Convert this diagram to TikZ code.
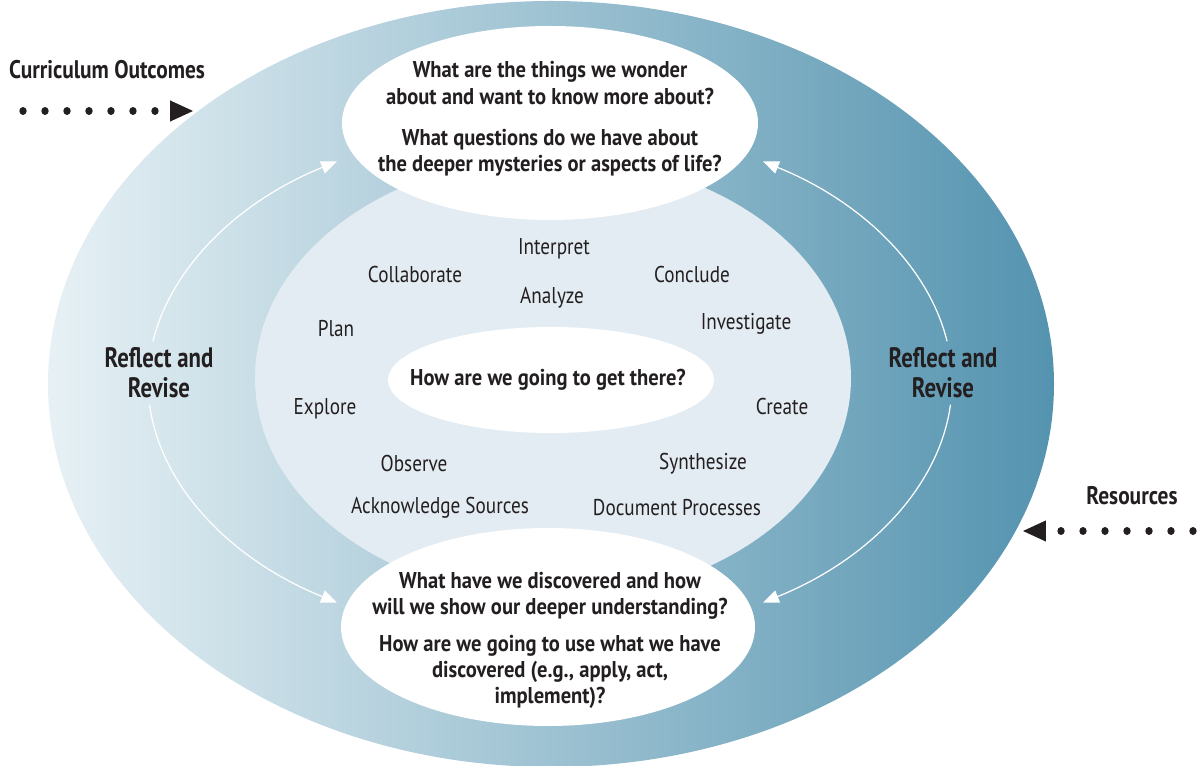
\documentclass[tikz,border=0pt]{standalone}
\usepackage{fontspec}
\setmainfont{PT Sans}[FakeStretch=0.84]
\newfontfamily\questfont{PT Sans}[FakeStretch=0.90]
\newfontfamily\reflectfont{PT Sans}[FakeStretch=0.81]
\usetikzlibrary{arrows.meta,calc}
\definecolor{ringlight}{RGB}{231,241,245}
\definecolor{ringdark}{RGB}{84,147,175}
\definecolor{core}{RGB}{227,236,242}
\definecolor{ink}{RGB}{35,31,32}

\begin{document}
\begin{tikzpicture}[x=0.02cm, y=-0.02cm,
        question/.style={font=\questfont\bfseries\fontsize{13}{15}\selectfont, align=center, text=ink},
        action/.style={font=\fontsize{13}{15}\selectfont, text=ink},
        reflect/.style={font=\reflectfont\bfseries\fontsize{16}{17}\selectfont, align=center, text=ink},
        inflow/.style={font=\bfseries\fontsize{14.5}{16}\selectfont, text=ink},
        dotarrow/.style={ink, line width=4.2pt, line cap=round, dash pattern=on 0.01pt off 12.51pt, -{Triangle[length=13pt, width=12pt, line width=0pt]}},
        loopline/.style={white, line width=0.7pt, -{Triangle[length=9pt, width=7.5pt, line width=0pt]}},
    ]
        \useasboundingbox (0,0) rectangle (1204,766);

        % Rings
        \shade[left color=ringlight, right color=ringdark] (551,384) ellipse [x radius=503, y radius=383];
        \fill[core] (553,378) ellipse [x radius=298, y radius=221];

        % Reflect and Revise loops
        \coordinate (ring) at (550,382);
        \draw[loopline] ($(ring)+(-171:402 and 260)$) arc[start angle=-171, end angle=-122, x radius=402, y radius=260];
        \draw[loopline] ($(ring)+(175:402 and 260)$) arc[start angle=175, end angle=122, x radius=402, y radius=260];
        \draw[loopline] ($(ring)+(-9:402 and 260)$) arc[start angle=-9, end angle=-58, x radius=402, y radius=260];
        \draw[loopline] ($(ring)+(5:402 and 260)$) arc[start angle=5, end angle=58, x radius=402, y radius=260];
        \node[reflect] (reflect-l) at (159,373) {Reflect and\\Revise};
        \node[reflect] (reflect-r) at (943,373) {Reflect and\\Revise};

        % Bubbles
        \fill[white] (550,123) ellipse [x radius=208, y radius=97];
        \fill[white] (548,627) ellipse [x radius=207, y radius=99];
        \fill[white] (551,380) ellipse [x radius=163, y radius=53];

        % Questions
        \node[question] (wonder) at (550,83) {What are the things we wonder\\about and want to know more about?};
        \node[question] (mystery) at (550,153) {What questions do we have about\\the deeper mysteries or aspects of life?};
        \node[question] (getthere) at (548,380) {How are we going to get there?};
        \node[question] (discover) at (550,596) {What have we discovered and how\\will we show our deeper understanding?};
        \node[question] (apply) at (550,672) {How are we going to use what we have\\discovered (e.g., apply, act,\\implement)?};

        % Processes
        \node[action] (interpret) at (554,249) {Interpret};
        \node[action] (collaborate) at (415,275) {Collaborate};
        \node[action] (conclude) at (692,275) {Conclude};
        \node[action] (analyze) at (552,298) {Analyze};
        \node[action] (plan) at (336,329) {Plan};
        \node[action] (investigate) at (746,324) {Investigate};
        \node[action] (explore) at (325,409) {Explore};
        \node[action] (create) at (782,407) {Create};
        \node[action] (observe) at (414,464) {Observe};
        \node[action] (synthesize) at (703,464) {Synthesize};
        \node[action] (acknowledge) at (440,508) {Acknowledge Sources};
        \node[action] (document) at (677,508) {Document Processes};

        % Inputs
        \node[inflow] (outcomes) at (107,70) {Curriculum Outcomes};
        \coordinate (outcomes-in) at (23,111);
        \coordinate (outcomes-tip) at (193,111);
        \draw[dotarrow] (outcomes-in) -- (outcomes-tip);
        \node[inflow] (resources) at (1132,496) {Resources};
        \coordinate (resources-in) at (1193,531);
        \coordinate (resources-tip) at (1023,531);
        \draw[dotarrow] (resources-in) -- (resources-tip);
    \end{tikzpicture}
\end{document}
